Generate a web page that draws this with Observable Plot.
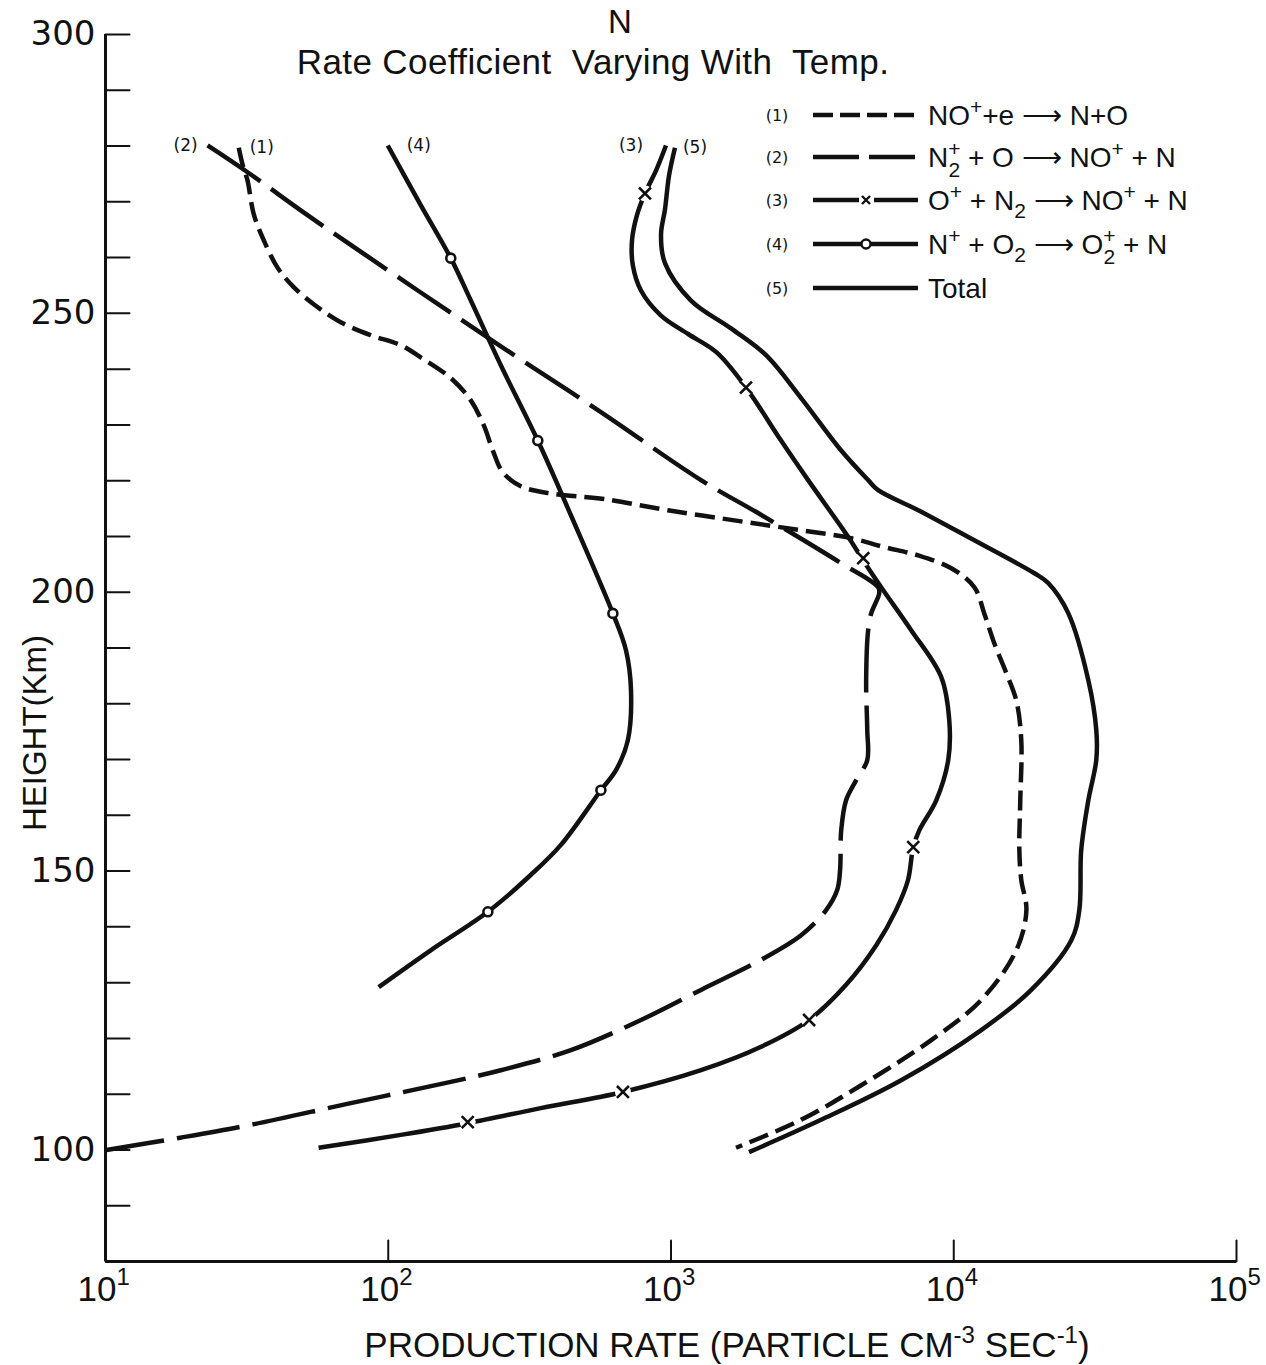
<!DOCTYPE html>
<html><head><meta charset="utf-8">
<script src="https://cdn.jsdelivr.net/npm/d3@7"></script>
<script src="https://cdn.jsdelivr.net/npm/@observablehq/plot@0.6"></script>
<style>body{margin:0;background:#fff} svg{display:block}</style>
</head><body><div id="chart"></div>
<script>
// ---- data (production rate, particle cm^-3 s^-1 ; height, km) ----
// (1) NO+ + e -> N + O
const rate1 = [29.6,30.6,31.8,33.4,36.3,40.6,46.3,56.3,67.9,86.6,110.7,130.3,166.4,195.9,217.8,234.4,254.2,294.4,376,579,975,1770,2885,4335,5675,7490,9800,11830,12820,13900,15340,16640,17330,17190,17060,17330,18070,16640,12510,8326,4707,2885,1698];
const height1 = [279.7,276.5,273.8,267.9,263.1,258.2,254.7,251.1,248.4,246.1,244.3,242.1,238.4,234.4,229.9,225.4,221.5,219.0,217.7,216.7,214.7,212.7,211.1,209.7,208.1,206.6,204.3,200.9,196.2,190.9,185.5,180.6,173.5,162.7,153.8,148.4,143.0,135.8,126.9,119.7,111.6,105.4,100.4];
// (2) N2+ + O -> NO+ + N
const rate2 = [22.96,31.8,53.2,127.2,250.1,565,1277,2032,3999,5404,5450,5106,4980,4900,4944,4944,4518,4161,3999,3963,3870,3537,2885,2083,1277,783,442.6,250.1,166.4,73.7,32.6,18.4,10.08];
const height2 = [280.1,275.3,267.2,254.1,244.1,232.3,220.1,214.2,205.2,200.9,199.8,196.2,193.2,184.2,175.3,169.9,166.3,162.7,157.3,150.2,146.6,143.0,138.5,134.1,128.7,123.3,117.9,114.3,112.2,108.4,104.5,102.2,100.0];
// (3) O+ + N2 -> NO+ + N
const rate3 = [960,885,809,758,728,733,783,922,1150,1450,1842,2450,3055,4235,4786,5537,7070,9031,9640,9560,8672,7551,7190,6890,6250,5320,4161,3079,2083,1277,676,346,191,110.7,56.7];
const height3 = [280.1,275.6,271.5,267.6,263.1,258.6,254.1,249.6,246.3,243.0,236.7,227.2,220.1,209.9,205.7,200.9,193.2,184.8,177.1,169.9,162.7,157.3,154.3,148.4,143.0,136.7,129.6,123.3,118.5,114.3,110.4,107.5,104.8,102.7,100.4];
const markRate3 = [809,1842,4786,7190,3079,676,191];
const markHeight3 = [271.5,236.7,206.1,154.3,123.3,110.4,105.0];
// (4) N+ + O2 -> O2+ + N
const rate4 = [99.6,130.3,166.4,195.9,250.1,338,442.6,623,693,722,704,639,565,408,319,225.1,141.3,92.5];
const height4 = [280.1,269.4,259.9,252.3,240.7,227.2,213.8,196.2,189.6,182.4,173.5,168.1,164.5,154.7,149.3,142.7,135.8,129.2];
const markRate4 = [166.4,338,623,565,225.1];
const markHeight4 = [259.9,227.2,196.2,164.5,142.7];
// (5) Total
const rate5 = [1033,984,952,922,952,1177,1630,2168,2885,3999,4980,5404,7490,11250,19290,21620,25430,29920,31920,31920,29920,28240,27800,26050,18800,12510,6516,3394,1888];
const height5 = [279.7,274.7,268.6,264.2,259.0,252.3,247.3,242.5,234.8,225.4,220.1,218.3,214.7,209.9,203.4,201.6,196.2,184.2,175.3,169.9,162.7,153.8,143.0,137.6,128.7,121.5,112.5,105.4,99.6];

const curveNames = ["(1)","(2)","(3)","(4)","(5)"];
const decades = [10,100,1000,10000,100000];
const exponents = ["1","2","3","4","5"];
const yMinorTicks = [90,100,110,120,130,140,150,160,170,180,190,200,210,220,230,240,250,260,270,280,290,300];
const yLabelTicks = [100,150,200,250,300];

const titleText = "N";
const subtitleText = "Rate Coefficient\u00a0 Varying With\u00a0 Temp.";
const yTitle = "HEIGHT(Km)";

// ---- build tables ----
const series = (r,h) => r.map((v,i) => ({rate:v, height:h[i]}));
const s1 = series(rate1,height1), s2 = series(rate2,height2), s3 = series(rate3,height3),
      s4 = series(rate4,height4), s5 = series(rate5,height5);
const m3 = series(markRate3,markHeight3), m4 = series(markRate4,markHeight4);
const tops = [s1[0],s2[0],s3[0],s4[0],s5[0]].map((d,i)=>({...d, name:curveNames[i]}));
const labelDx = [23,-22,-35,31,20];

const ink = "#111";
const tickShape = {draw(ctx,l){ctx.moveTo(0,0); ctx.lineTo(0,-l);}};
const lo = {x:"rate", y:"height", stroke:ink, strokeWidth:4.5, curve:"catmull-rom", strokeLinecap:"butt"};
const FONT = "Liberation Sans, Arial, sans-serif";

const svg = Plot.plot({
  width:1266, height:1365,
  marginLeft:105, marginRight:30, marginTop:34, marginBottom:104,
  style:{fontFamily:FONT, background:"#fff", color:ink},
  x:{type:"log", domain:[10,1e5], axis:null},
  y:{domain:[80,300], axis:null},
  marks:[
    Plot.ruleX([10], {stroke:ink, strokeWidth:3}),
    Plot.ruleY([80], {stroke:ink, strokeWidth:3}),
    Plot.vector(yMinorTicks, {y:d=>d, frameAnchor:"left", rotate:90, length:24, anchor:"start", shape:tickShape, stroke:ink, strokeWidth:2}),
    Plot.vector(decades, {x:d=>d, frameAnchor:"bottom", length:21, anchor:"start", shape:tickShape, stroke:ink, strokeWidth:2}),
    Plot.text(yLabelTicks, {y:d=>d, frameAnchor:"left", dx:-10, textAnchor:"end", text:d=>String(d), fontSize:34, fontFamily:"DejaVu Sans", fill:ink}),
    Plot.text(decades, {x:d=>d, frameAnchor:"bottom", dy:39, dx:-28, textAnchor:"start", text:()=>"10", fontSize:35, fill:ink, className:"dec"}),
    Plot.line(s1, {...lo, strokeDasharray:"20,8"}),
    Plot.line(s2, {...lo, strokeDasharray:"64,13"}),
    Plot.line(s3, lo),
    Plot.line(s4, lo),
    Plot.line(s5, lo),
    Plot.dot(m3, {x:"rate", y:"height", r:8, fill:"#fff", stroke:null}),
    Plot.dot(m3, {x:"rate", y:"height", symbol:"times", r:5.5, stroke:ink, strokeWidth:2.6}),
    Plot.dot(m4, {x:"rate", y:"height", r:4.5, fill:"#fff", stroke:ink, strokeWidth:2.6}),
    Plot.text(tops, {x:"rate", y:"height", text:"name", fontSize:17, fill:ink, fontFamily:"DejaVu Sans"})
  ]
});

const S = d3.select(svg);
// shift curve labels horizontally (layout offsets)
S.selectAll("text").filter(function(){return curveNames.includes(this.textContent);})
  .each(function(){ const k = curveNames.indexOf(this.textContent);
    this.setAttribute("x", (+this.getAttribute("x")) + labelDx[k]); });
// decade labels: "10" followed by a raised exponent, in one text element
S.selectAll("g.dec text").each(function(i){
  const t = d3.select(this); t.text(null);
  t.append("tspan").text("10");
  t.append("tspan").attr("dy",-16).attr("font-size",24).text(exponents[i]);
});

// titles
S.append("text").attr("x",620).attr("y",33).attr("text-anchor","middle").attr("font-size",33).attr("fill",ink).attr("font-family",FONT).text(titleText);
S.append("text").attr("x",593).attr("y",74).attr("text-anchor","middle").attr("font-size",35).attr("fill",ink).attr("font-family",FONT).attr("letter-spacing","0.4").text(subtitleText);
// y title
S.append("text").attr("transform","translate(46,733) rotate(-90)").attr("text-anchor","middle").attr("font-size",33).attr("fill",ink).attr("font-family",FONT).text(yTitle);
// x title with superscripts
S.append("text").attr("x",727).attr("y",1357).attr("text-anchor","middle").attr("font-size",35).attr("fill",ink).attr("font-family",FONT)
  .html('PRODUCTION RATE (PARTICLE CM<tspan dy="-14" font-size="24">-3</tspan><tspan dy="14"> SEC</tspan><tspan dy="-14" font-size="24">-1</tspan><tspan dy="14">)</tspan>');

// legend
const legendRows = [
  {y:115, dash:"20,7", mk:null, html:'NO<tspan dy="-11" font-size="21">+</tspan><tspan dy="11">+e ⟶ N+O</tspan>'},
  {y:157, dash:"46,10", mk:null, html:'N<tspan dy="-11" font-size="21">+</tspan><tspan dx="-12" dy="21" font-size="21">2</tspan><tspan dy="-10"> + O ⟶ NO</tspan><tspan dy="-11" font-size="21">+</tspan><tspan dy="11"> + N</tspan>'},
  {y:200, dash:null, mk:"x", html:'O<tspan dy="-11" font-size="21">+</tspan><tspan dy="11"> + N</tspan><tspan dy="8" font-size="21">2</tspan><tspan dy="-8"> ⟶ NO</tspan><tspan dy="-11" font-size="21">+</tspan><tspan dy="11"> + N</tspan>'},
  {y:244, dash:null, mk:"o", html:'N<tspan dy="-11" font-size="21">+</tspan><tspan dy="11"> + O</tspan><tspan dy="8" font-size="21">2</tspan><tspan dy="-8"> ⟶ O</tspan><tspan dy="-11" font-size="21">+</tspan><tspan dx="-12" dy="21" font-size="21">2</tspan><tspan dy="-10"> + N</tspan>'},
  {y:288, dash:null, mk:null, html:'Total'}
];
const L = S.append("g");
legendRows.forEach((r,i)=>{
  L.append("text").attr("x",777).attr("y",r.y+6).attr("text-anchor","middle").attr("font-size",16).attr("font-family","DejaVu Sans").attr("fill",ink).text(curveNames[i]);
  if (r.mk === "x") {
    L.append("line").attr("x1",813).attr("x2",859).attr("y1",r.y).attr("y2",r.y).attr("stroke",ink).attr("stroke-width",4.5);
    L.append("line").attr("x1",874).attr("x2",918).attr("y1",r.y).attr("y2",r.y).attr("stroke",ink).attr("stroke-width",4.5);
    L.append("path").attr("d",`M862,${r.y-4}L870,${r.y+4}M870,${r.y-4}L862,${r.y+4}`).attr("stroke",ink).attr("stroke-width",2.4);
  } else {
    const ln = L.append("line").attr("x1",813).attr("x2",918).attr("y1",r.y).attr("y2",r.y).attr("stroke",ink).attr("stroke-width",4.5);
    if (r.dash) ln.attr("stroke-dasharray",r.dash);
    if (r.mk === "o") L.append("circle").attr("cx",866).attr("cy",r.y).attr("r",4.5).attr("fill","#fff").attr("stroke",ink).attr("stroke-width",2.4);
  }
  L.append("text").attr("x",928).attr("y",r.y+10).attr("text-anchor","start").attr("font-size",28).attr("font-family",FONT).attr("fill",ink).html(r.html);
});

document.getElementById("chart").appendChild(svg);
</script>
</body></html>
